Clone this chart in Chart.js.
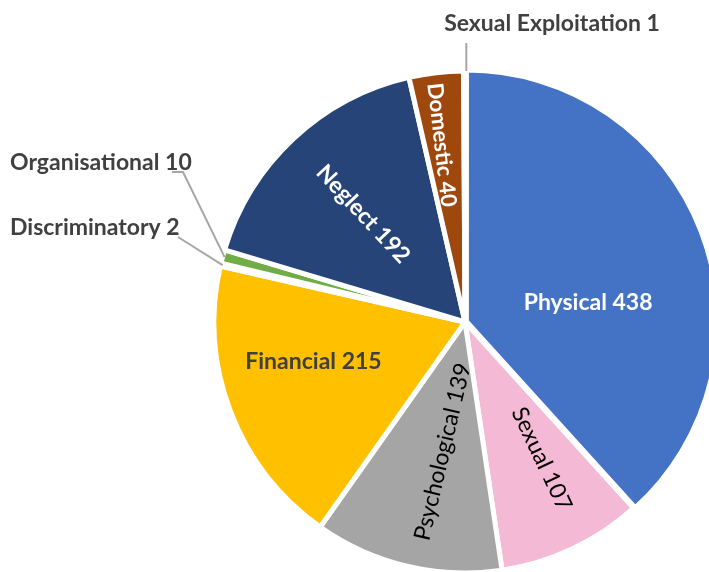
<!DOCTYPE html>
<html>
<head>
<meta charset="utf-8">
<script src="https://cdn.jsdelivr.net/npm/chart.js@4.4.0/dist/chart.umd.min.js"></script>
<style>
  html, body { margin: 0; padding: 0; background: #fff; overflow: hidden; }
  #wrap { position: relative; width: 709px; height: 572px; }
</style>
</head>
<body>
<div id="wrap"><canvas id="abuseChart" width="709" height="572"></canvas></div>
<script>
// abuse categories, clockwise from 12 o'clock
const categories = ['Physical', 'Sexual', 'Psychological', 'Financial', 'Discriminatory',
    'Organisational', 'Neglect', 'Domestic', 'Sexual Exploitation'];
const counts = [438, 107, 139, 215, 2, 10, 192, 40, 1];
const sliceColours = ['#4472C4', '#F4B9D4', '#A5A5A5', '#FFC000', '#5B9BD5',
    '#70AD47', '#264478', '#9E480E', '#7F7F7F'];

const FONT = 'Lato, "Open Sans", sans-serif';
const FONT_SIZE = 23;

// how each label is drawn (r = fraction of radius along the slice middle)
const labelStyle = [
    { mode: 'flat', r: 0.5, dx: 6, dy: 26, colour: '#ffffff', weight: 'bold' },
    { mode: 'radial', r: 0.63, dx: 9, dy: -6, colour: '#000000', weight: 'normal' },
    { mode: 'radial', r: 0.54, dx: 9, dy: -2, colour: '#000000', weight: 'normal' },
    { mode: 'flat', r: 0.625, dx: -5, dy: -16, colour: '#404040', weight: 'bold' },
    { mode: 'outside', textX: 10, textY: 228, align: 'left', elbow: [178, 237] },
    { mode: 'outside', textX: 10, textY: 163, align: 'left', elbow: [183, 172], tail: [172, 172] },
    { mode: 'radial', r: 0.6, dx: 1, dy: 2, colour: '#ffffff', weight: 'bold' },
    { mode: 'radial', r: 0.71, dx: -3, dy: 0, colour: '#ffffff', weight: 'bold', size: 22 },
    { mode: 'outside', textX: 552, textY: 24, align: 'center', elbow: null, lineTop: 43 }
];

const sliceLabels = {
    id: 'sliceLabels',
    afterDatasetsDraw(chart) {
        const ctx = chart.ctx;
        const arcs = chart.getDatasetMeta(0).data;
        arcs.forEach((arc, i) => {
            const p = arc.getProps(['x', 'y', 'startAngle', 'endAngle', 'outerRadius']);
            const mid = (p.startAngle + p.endAngle) / 2;
            const text = categories[i] + ' ' + counts[i];
            const st = labelStyle[i];
            ctx.save();
            if (st.mode === 'outside') {
                const ax = p.x + Math.cos(mid) * (p.outerRadius - 2);
                const ay = p.y + Math.sin(mid) * (p.outerRadius - 2);
                ctx.strokeStyle = '#A6A6A6';
                ctx.lineWidth = 2;
                ctx.beginPath();
                if (st.elbow) {
                    ctx.moveTo(ax, ay);
                    ctx.lineTo(st.elbow[0], st.elbow[1]);
                    if (st.tail) ctx.lineTo(st.tail[0], st.tail[1]);
                } else {
                    ctx.moveTo(ax + 2, ay - 2);
                    ctx.lineTo(ax + 2, st.lineTop);
                }
                ctx.stroke();
                ctx.font = 'bold ' + FONT_SIZE + 'px ' + FONT;
                ctx.fillStyle = '#404040';
                ctx.textAlign = st.align;
                ctx.textBaseline = 'middle';
                ctx.fillText(text, st.textX, st.textY);
            } else {
                const r = p.outerRadius * st.r;
                const lx = p.x + Math.cos(mid) * r + st.dx;
                const ly = p.y + Math.sin(mid) * r + st.dy;
                ctx.translate(lx, ly);
                if (st.mode === 'radial') {
                    let a = mid;
                    if (Math.cos(mid) < 0) a += Math.PI;
                    ctx.rotate(a);
                }
                ctx.font = st.weight + ' ' + (st.size || FONT_SIZE) + 'px ' + FONT;
                ctx.fillStyle = st.colour;
                ctx.textAlign = 'center';
                ctx.textBaseline = 'middle';
                ctx.fillText(text, 0, 0);
            }
            ctx.restore();
        });
    }
};

new Chart(document.getElementById('abuseChart').getContext('2d'), {
    type: 'pie',
    data: {
        labels: categories,
        datasets: [{
            data: counts,
            backgroundColor: sliceColours,
            borderColor: '#ffffff',
            borderWidth: 5,
            offset: [6, 0, 0, 0, 0, 0, 0, 0, 0]
        }]
    },
    options: {
        responsive: false,
        animation: false,
        radius: 251,
        layout: { padding: { left: 221, right: 0, top: 72, bottom: 0 } },
        plugins: {
            legend: { display: false },
            tooltip: { enabled: false }
        }
    },
    plugins: [sliceLabels]
});
</script>
</body>
</html>
